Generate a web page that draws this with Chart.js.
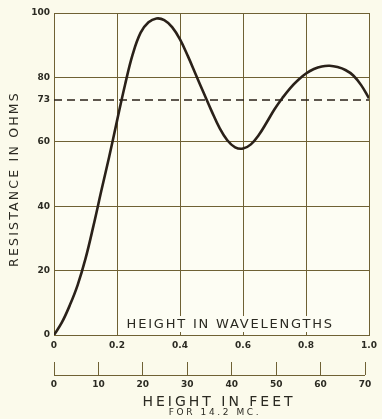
<!DOCTYPE html>
<html><head><meta charset="utf-8">
<script src="https://cdn.jsdelivr.net/npm/chart.js@4/dist/chart.umd.min.js"></script>
<style>html,body{margin:0;padding:0;background:#fbfaea;overflow:hidden;}</style>
</head><body>
<canvas id="c" width="382" height="419"></canvas>
<script>
// ---- data ----
const heightWavelengths = [0, 0.025, 0.05, 0.075, 0.1, 0.125, 0.15, 0.175, 0.2, 0.225, 0.25, 0.275, 0.3, 0.325, 0.35, 0.375, 0.4, 0.425, 0.45, 0.475, 0.5, 0.525, 0.55, 0.575, 0.6, 0.625, 0.65, 0.675, 0.7, 0.725, 0.75, 0.775, 0.8, 0.825, 0.85, 0.875, 0.9, 0.925, 0.95, 0.975, 1.0];
const resistanceOhms    = [0, 3.9, 9.2, 15.5, 23.7, 33.8, 44.7, 55.3, 66.5, 77.5, 87.2, 93.9, 97.1, 98.3, 97.8, 95.6, 91.8, 86.6, 80.9, 75.2, 69.6, 64.4, 60.5, 58.3, 57.9, 59.2, 62.1, 66.0, 70.1, 73.6, 76.7, 79.2, 81.2, 82.6, 83.4, 83.6, 83.2, 82.3, 80.6, 77.6, 73.5];
const referenceLevel = [73, 73];
const referenceSpan = [0, 1.0];
const yTickValues = [0, 20, 40, 60, 73, 80, 100];
const xTickValues = [0, 0.2, 0.4, 0.6, 0.8, 1.0];
const xTickLabels = ['0', '0.2', '0.4', '0.6', '0.8', '1.0'];
const feetTickValues = [0, 10, 20, 30, 40, 50, 60, 70];
const feetTickLabels = ['0', '10', '20', '30', '40', '50', '60', '70'];
const yTitle = 'RESISTANCE IN OHMS';
const xTitle = 'HEIGHT IN WAVELENGTHS';
const feetTitle = 'HEIGHT IN FEET';
const feetSubtitle = 'FOR 14.2 MC.';

const gridColor = '#6f6134';
const inkColor = '#2a2119';
const textColor = '#2b2a22';
const pageBg = '#fbfaeb';
const plotBg = '#fdfdf3';
const FONT = '"DejaVu Sans", sans-serif';

const decor = {
  id: 'decor',
  beforeDraw(chart) {
    const ctx = chart.ctx, a = chart.chartArea;
    ctx.save();
    ctx.fillStyle = pageBg;
    ctx.fillRect(0, 0, chart.width, chart.height);
    ctx.fillStyle = plotBg;
    ctx.fillRect(a.left, a.top, a.right - a.left, a.bottom - a.top);
    ctx.restore();
  },
  beforeDatasetsDraw(chart) {
    const ctx = chart.ctx;
    const xs = chart.scales.x, ys = chart.scales.y;
    ctx.save();
    const cx = xs.getPixelForValue(0.553);
    const cy = ys.getPixelForValue(3.1);
    ctx.font = '13px ' + FONT;
    ctx.letterSpacing = '1.8px';
    const w = ctx.measureText(xTitle).width;
    ctx.fillStyle = plotBg;
    ctx.fillRect(cx - w / 2 - 3, cy - 9, w + 6, 16);
    ctx.fillStyle = textColor;
    ctx.textAlign = 'center';
    ctx.textBaseline = 'middle';
    ctx.fillText(xTitle, cx + 2, cy);
    ctx.restore();
  },
  afterDraw(chart) {
    const ctx = chart.ctx;
    const x2 = chart.scales.x2;
    ctx.save();
    // baseline of the feet scale
    const by = x2.top + 13;
    ctx.strokeStyle = gridColor;
    ctx.lineWidth = 1;
    ctx.beginPath();
    ctx.moveTo(x2.getPixelForValue(0), by + 0.5);
    ctx.lineTo(x2.getPixelForValue(70), by + 0.5);
    ctx.stroke();
    // y title
    ctx.fillStyle = textColor;
    ctx.textAlign = 'center';
    ctx.textBaseline = 'middle';
    ctx.translate(15, 180);
    ctx.rotate(-Math.PI / 2);
    ctx.font = '12.5px ' + FONT;
    ctx.letterSpacing = '2.2px';
    ctx.fillText(yTitle, 1, 0);
    ctx.restore();
    ctx.save();
    ctx.fillStyle = textColor;
    ctx.textAlign = 'center';
    ctx.textBaseline = 'middle';
    ctx.font = '14px ' + FONT;
    ctx.letterSpacing = '3px';
    ctx.fillText(feetTitle, 219, 402);
    ctx.font = '9px ' + FONT;
    ctx.letterSpacing = '2.6px';
    ctx.fillText(feetSubtitle, 215, 413);
    ctx.restore();
  }
};

new Chart(document.getElementById('c'), {
  type: 'line',
  data: {
    datasets: [
      {
        data: heightWavelengths.map((h, i) => ({ x: h, y: resistanceOhms[i] })),
        borderColor: inkColor,
        borderWidth: 2.6,
        pointRadius: 0,
        tension: 0.4,
        fill: false,
        xAxisID: 'x', yAxisID: 'y'
      },
      {
        data: referenceSpan.map((h, i) => ({ x: h, y: referenceLevel[i] })),
        borderColor: inkColor,
        borderWidth: 1.6,
        borderDash: [8, 5],
        pointRadius: 0,
        fill: false,
        xAxisID: 'x', yAxisID: 'y'
      }
    ]
  },
  options: {
    responsive: false,
    devicePixelRatio: 1,
    animation: false,
    layout: { padding: { top: 13, right: 6, left: 0, bottom: 0 } },
    plugins: { legend: { display: false }, tooltip: { enabled: false } },
    scales: {
      x: {
        type: 'linear', position: 'bottom', min: 0, max: 1, weight: 0,
        afterBuildTicks: s => { s.ticks = xTickValues.map(v => ({ value: v })); },
        afterFit: s => { s.height = 27; },
        grid: { color: gridColor, lineWidth: 1, drawTicks: false },
        border: { display: true, color: gridColor, width: 1 },
        ticks: {
          padding: 5, maxRotation: 0, autoSkip: false, color: textColor,
          font: { family: FONT, size: 9, weight: 'bold' },
          callback: (v, i) => xTickLabels[i]
        }
      },
      x2: {
        type: 'linear', position: 'bottom', min: 0, max: 70.9, weight: 1,
        afterBuildTicks: s => { s.ticks = feetTickValues.map(v => ({ value: v })); },
        afterFit: s => { s.height = 57; },
        grid: { drawOnChartArea: false, drawTicks: true, tickLength: 13, color: gridColor, lineWidth: 1 },
        border: { display: false },
        ticks: {
          padding: 4, maxRotation: 0, autoSkip: false, color: textColor,
          font: { family: FONT, size: 9, weight: 'bold' },
          callback: (v, i) => feetTickLabels[i]
        }
      },
      y: {
        type: 'linear', min: 0, max: 100,
        afterBuildTicks: s => { s.ticks = yTickValues.map(v => ({ value: v })); },
        afterFit: s => { s.width = 54; },
        grid: {
          drawTicks: false, lineWidth: 1,
          color: c => (c.tick && c.tick.value === 73) ? 'rgba(0,0,0,0)' : gridColor
        },
        border: { display: true, color: gridColor, width: 1 },
        ticks: {
          padding: 4, autoSkip: false, color: textColor,
          font: { family: FONT, size: 9, weight: 'bold' },
          callback: v => String(v)
        }
      }
    }
  },
  plugins: [decor]
});
</script>
</body></html>
